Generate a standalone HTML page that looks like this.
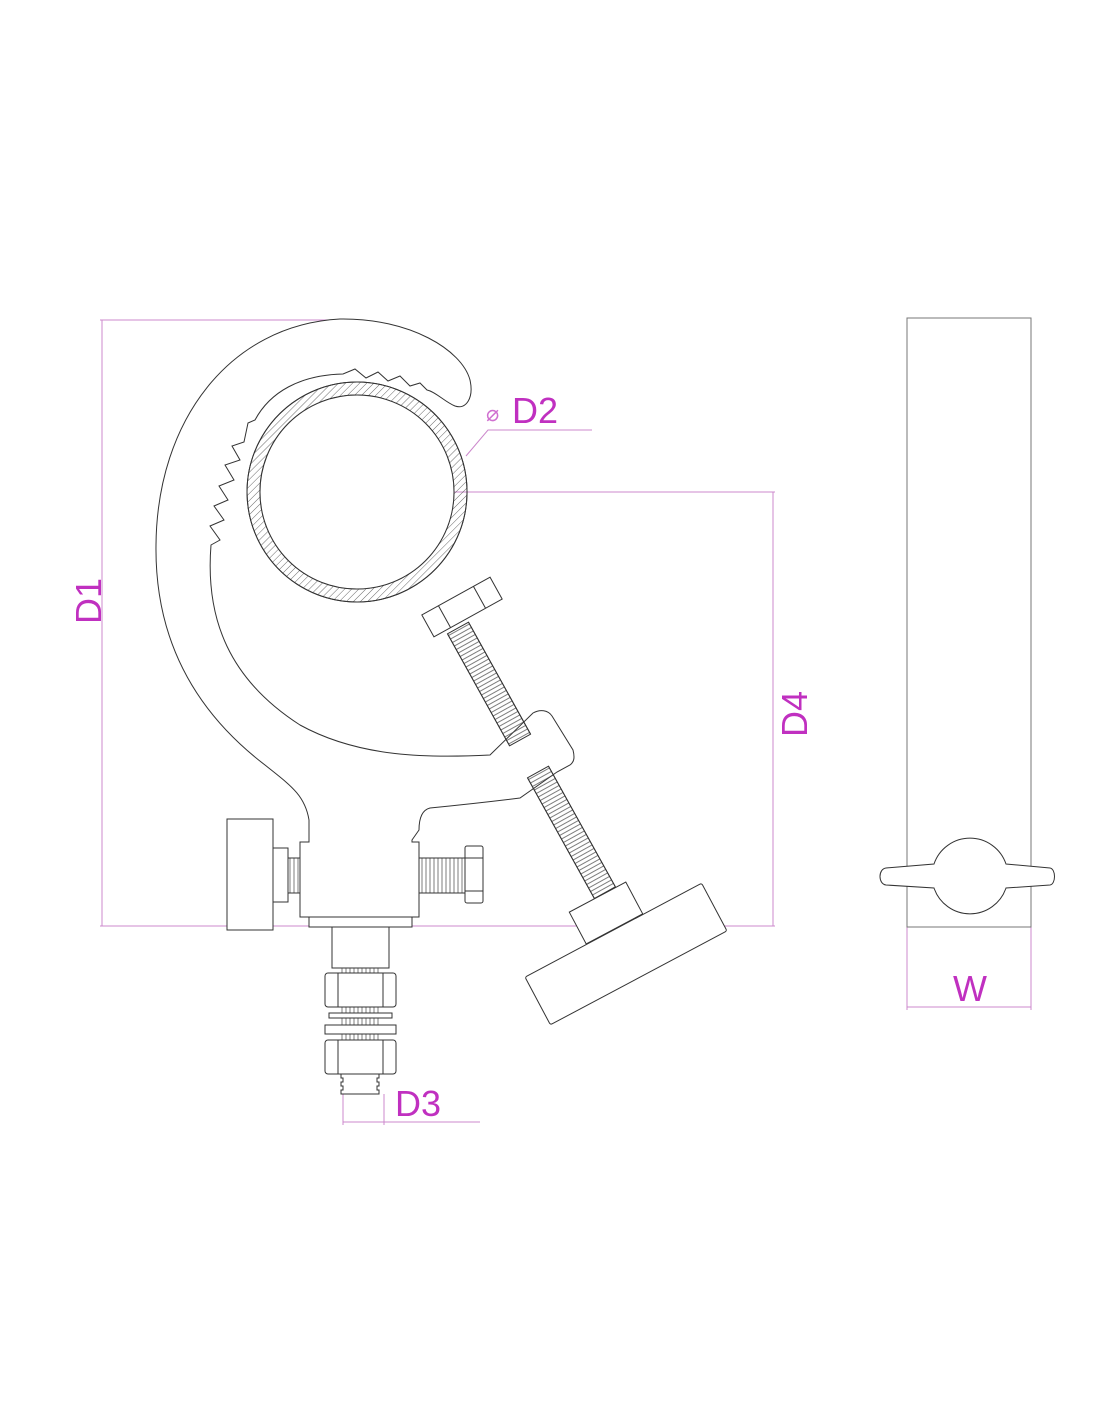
<!DOCTYPE html>
<html><head><meta charset="utf-8"><style>html,body{margin:0;padding:0;background:#fff}svg{display:block}</style></head>
<body>
<svg width="1100" height="1422" viewBox="0 0 1100 1422" xmlns="http://www.w3.org/2000/svg">
<defs>
<pattern id="h" width="5" height="5" patternUnits="userSpaceOnUse" patternTransform="rotate(45)">
<line x1="0" y1="0" x2="0" y2="5" stroke="#444" stroke-width="0.8"/>
</pattern>
<pattern id="th" width="4" height="30" patternUnits="userSpaceOnUse" x="0" y="0">
<line x1="2" y1="0" x2="2" y2="30" stroke="#444" stroke-width="0.7"/>
</pattern>
</defs>
<g fill="none" stroke="#cc88cc" stroke-width="1">
<line x1="102" y1="320" x2="102" y2="926"/>
<line x1="100" y1="320" x2="342" y2="320"/>
<line x1="100" y1="926" x2="775" y2="926"/>
<line x1="357" y1="492" x2="775" y2="492"/>
<line x1="773" y1="492" x2="773" y2="926"/>
<polyline points="466,456 488,430 592,430"/>
<line x1="343" y1="1094" x2="343" y2="1125"/>
<line x1="384" y1="1094" x2="384" y2="1125"/>
<line x1="343" y1="1122" x2="480" y2="1122"/>
<line x1="907" y1="927" x2="907" y2="1010"/>
<line x1="1031" y1="927" x2="1031" y2="1010"/>
<line x1="907" y1="1007" x2="1031" y2="1007"/>
</g>
<g fill="#c030c0" font-family="'Liberation Sans',sans-serif" font-size="36">
<text transform="translate(101,624) rotate(-90)">D1</text>
<text transform="translate(807,737) rotate(-90)">D4</text>
<text x="512" y="423">D2</text>
<text x="395" y="1116">D3</text>
<text x="953" y="1001">W</text>
<text x="486" y="421" font-size="22" fill="#d070d0">⌀</text>
</g>
<g fill="none" stroke="#333" stroke-width="1">
<path d="M340,319 C410,318 462,350 470,380 C474,398 466,410 455,406 C445,402 436,392 427,390 L420,383 L410,386 L400,376 L388,381 L378,372 L366,378 L355,369 L343,374 C300,375 270,392 255,420 L248,423 L244,442 L232,446 L240,460 L225,465 L234,480 L219,486 L228,500 L214,506 L224,520 L210,526 L220,540 L211,545 C205,620 230,680 300,725 C360,758 430,758 490,755 L533,713 C540,709 548,710 552,716 L573,750 C575,758 574,762 570,765 L557,772 L520,798 C480,803 450,806 430,808 C422,810 419,818 419,830 L412,840 L412,842 L419,842 L419,917 L412,917 L412,927 L309,927 L309,917 L300,917 L300,842 L309,842 L309,820 C305,795 290,785 265,765 C180,700 155,620 156,545 C157,420 230,325 340,319 Z" fill="#fff"/>
<line x1="309" y1="917" x2="412" y2="917"/>
<path d="M357,382 a110,110 0 1,0 0.1,0 Z M357,395 a97,97 0 1,1 -0.1,0 Z" fill="url(#h)" fill-rule="evenodd"/>
<circle cx="357" cy="492" r="110"/>
<circle cx="357" cy="492" r="97" fill="#fff"/>
<g transform="translate(458,628) rotate(61)">
<rect x="0" y="-12" width="128" height="24" fill="url(#th)"/>
<line x1="0" y1="-12" x2="128" y2="-12"/><line x1="0" y1="12" x2="128" y2="12"/>
</g>
<g transform="translate(462,607) rotate(-29)" fill="#fff">
<rect x="-39" y="-12.5" width="78" height="25"/>
<line x1="-20" y1="-12.5" x2="-20" y2="12.5"/><line x1="20" y1="-12.5" x2="20" y2="12.5"/>
</g>
<g transform="translate(538,772) rotate(61)">
<rect x="0" y="-12" width="138" height="24" fill="url(#th)"/>
<line x1="0" y1="-12" x2="138" y2="-12"/><line x1="0" y1="12" x2="138" y2="12"/>
</g>
<g transform="translate(606,913) rotate(-28)" fill="#fff">
<rect x="-32" y="-18" width="64" height="36"/>
</g>
<g transform="translate(626,954) rotate(-28)" fill="#fff">
<rect x="-100" y="-27" width="200" height="54" rx="2"/>
</g>
<rect x="227" y="819" width="46" height="111" fill="#fff"/>
<rect x="273" y="848" width="15" height="54"/>
<rect x="288" y="858" width="12" height="35" fill="url(#th)"/>
<rect x="419" y="858" width="46" height="35" fill="url(#th)"/>
<rect x="465" y="846" width="18" height="57" rx="2" fill="#fff"/>
<line x1="465" y1="858" x2="483" y2="858"/><line x1="465" y1="891" x2="483" y2="891"/>
<rect x="332" y="927" width="57" height="41"/>
<rect x="341" y="968" width="38" height="106" fill="url(#th)" stroke="none"/>
<rect x="325" y="973" width="71" height="34" rx="3" fill="#fff"/>
<line x1="338" y1="973" x2="338" y2="1007"/><line x1="383" y1="973" x2="383" y2="1007"/>
<rect x="329" y="1013" width="63" height="5" fill="#fff"/>
<rect x="325" y="1025" width="71" height="9" fill="#fff"/>
<rect x="325" y="1040" width="71" height="34" rx="3" fill="#fff"/>
<line x1="338" y1="1040" x2="338" y2="1074"/><line x1="383" y1="1040" x2="383" y2="1074"/>
<path d="M341,1074 h38 v4 h-2 v4 h2 v4 h-2 v4 h2 v4 h-38 v-4 h2 v-4 h-2 v-4 h2 v-4 h-2 z"/>
<rect x="907" y="318" width="124" height="609" stroke="#777"/>
<path d="M934,864 A38,38 0 0,1 1006,864 L1050,868 C1056,869 1056,884 1050,885 L1006,888 A38,38 0 0,1 934,888 L886,885 C878,884 878,869 886,868 Z" fill="#fff"/>
</g>
</svg>
</body></html>
